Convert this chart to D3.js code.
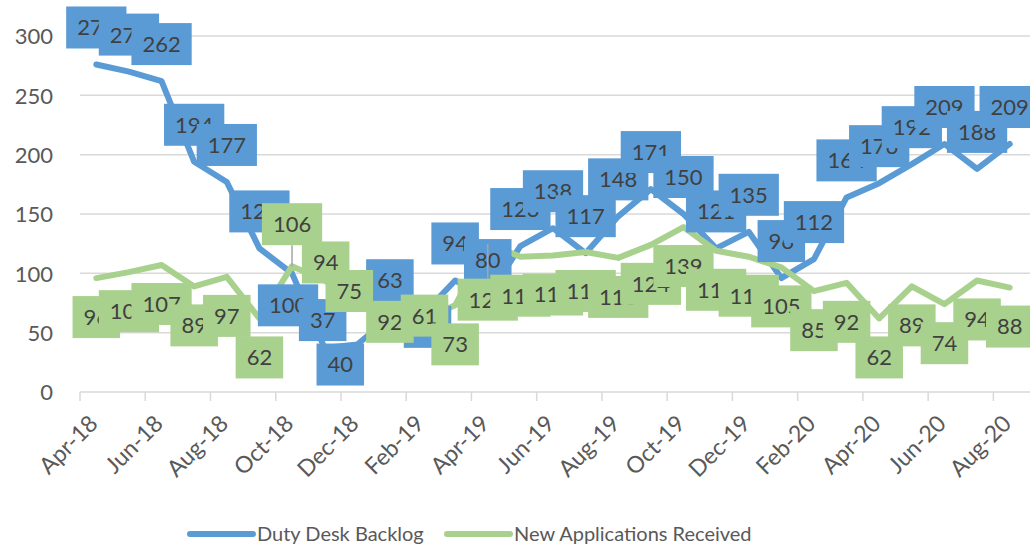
<!DOCTYPE html>
<html>
<head>
<meta charset="utf-8">
<script src="https://cdn.jsdelivr.net/npm/d3@7"></script>
<style>
  body { margin: 0; background: #fff; }
  text { font-family: Lato, "Open Sans", sans-serif; }
</style>
</head>
<body>
<div id="chart"></div>
<script>
const WIDTH = 1030;
const HEIGHT = 550;
const PLOT = { LEFT: 80, RIGHT: 1026, TOP: 36, BOTTOM: 392 };

const months = ["Apr-18", "May-18", "Jun-18", "Jul-18", "Aug-18", "Sep-18", "Oct-18", "Nov-18",
  "Dec-18", "Jan-19", "Feb-19", "Mar-19", "Apr-19", "May-19", "Jun-19", "Jul-19", "Aug-19",
  "Sep-19", "Oct-19", "Nov-19", "Dec-19", "Jan-20", "Feb-20", "Mar-20", "Apr-20", "May-20",
  "Jun-20", "Jul-20", "Aug-20"];
const tickMonths = ["Apr-18", "Jun-18", "Aug-18", "Oct-18", "Dec-18", "Feb-19", "Apr-19",
  "Jun-19", "Aug-19", "Oct-19", "Dec-19", "Feb-20", "Apr-20", "Jun-20", "Aug-20"];
const yTicks = [0, 50, 100, 150, 200, 250, 300];

const backlog = [276, 270, 262, 194, 177, 121, 100, 37, 40, 63, 65, 94, 80, 123, 138, 117,
  148, 171, 150, 121, 135, 96, 112, 164, 176, 192, 209, 188, 209];
const newApps = [96, 101, 107, 89, 97, 62, 106, 94, 75, 92, 61, 73, 125, 114, 115, 118,
  113, 124, 139, 119, 114, 105, 85, 92, 62, 89, 74, 94, 88];

const BLUE = "#5b9bd5";
const GREEN = "#a9d18e";

// labels that were dragged away from their default spot: [dx, dy, leader]
const blueNudge = { 6: [-4, 32], 7: [-2, -28], 8: [-17, 20], 10: [5, 12] };
const greenNudge = { 6: [0, -42, true], 7: [1, -18], 8: [-8, -12], 10: [2, -4], 12: [0, 56, true] };

const svg = d3.select("#chart").append("svg")
  .attr("width", WIDTH)
  .attr("height", HEIGHT);

const x = d3.scaleBand().domain(months).range([PLOT.LEFT, PLOT.RIGHT]);
const y = d3.scaleLinear().domain([0, 300]).range([PLOT.BOTTOM, PLOT.TOP]);
const cx = (m) => x(m) + x.bandwidth() / 2;

// gridlines
svg.append("g")
  .selectAll("line")
  .data(yTicks.filter((d) => d > 0))
  .join("line")
  .attr("x1", PLOT.LEFT)
  .attr("x2", WIDTH)
  .attr("y1", (d) => y(d))
  .attr("y2", (d) => y(d))
  .attr("stroke", "#d9d9d9")
  .attr("stroke-width", 1.5);

// y axis labels
const yAxis = svg.append("g")
  .attr("transform", `translate(${PLOT.LEFT - 27}, 0)`)
  .call(d3.axisLeft(y).tickValues(yTicks).tickSize(0).tickPadding(0));
yAxis.select(".domain").remove();
yAxis.selectAll("text")
  .attr("fill", "#595959")
  .style("font-size", "22px")
  .attr("dy", "0.36em");

// x axis
svg.append("line")
  .attr("x1", PLOT.LEFT).attr("x2", WIDTH)
  .attr("y1", PLOT.BOTTOM).attr("y2", PLOT.BOTTOM)
  .attr("stroke", "#d9d9d9").attr("stroke-width", 1.5);

svg.append("g")
  .selectAll("line")
  .data(tickMonths)
  .join("line")
  .attr("x1", (d) => x(d)).attr("x2", (d) => x(d))
  .attr("y1", PLOT.BOTTOM).attr("y2", PLOT.BOTTOM + 9)
  .attr("stroke", "#d9d9d9").attr("stroke-width", 1.5);

svg.append("g")
  .selectAll("text")
  .data(tickMonths)
  .join("text")
  .attr("transform", (d) => `translate(${cx(d) + 3}, 425) rotate(-45)`)
  .attr("text-anchor", "end")
  .attr("fill", "#595959")
  .style("font-size", "23px")
  .text((d) => d);

// lines
const lineGen = (vals) => d3.line()
  .x((d, i) => cx(months[i]))
  .y((d) => y(d))(vals);

svg.append("path")
  .attr("d", lineGen(backlog))
  .attr("fill", "none")
  .attr("stroke", BLUE)
  .attr("stroke-width", 6)
  .attr("stroke-linejoin", "round")
  .attr("stroke-linecap", "round");

svg.append("path")
  .attr("d", lineGen(newApps))
  .attr("fill", "none")
  .attr("stroke", GREEN)
  .attr("stroke-width", 6)
  .attr("stroke-linejoin", "round")
  .attr("stroke-linecap", "round");

// data labels
function drawLabels(vals, color, defaultDy, nudge) {
  const g = svg.append("g");
  vals.forEach((v, i) => {
    const n = nudge[i] || [0, defaultDy];
    const px = cx(months[i]);
    const py = y(v);
    const lab = g.append("g").attr("transform", `translate(${px + n[0]}, ${py + n[1]})`);
    const rect = lab.append("rect").attr("fill", color);
    const t = lab.append("text")
      .attr("text-anchor", "middle")
      .attr("dy", "0.36em")
      .attr("fill", "#404040")
      .style("font-size", "22px")
      .text(v);
    const w = t.node().getComputedTextLength() + 22;
    const h = 42;
    rect.attr("x", -w / 2).attr("y", -h / 2).attr("width", w).attr("height", h);
  });
  return g;
}

function drawLeaders(vals, nudge) {
  const g = svg.append("g");
  Object.keys(nudge).forEach((k) => {
    const n = nudge[k];
    if (!n[2]) return;
    const px = cx(months[k]);
    const py = y(vals[k]);
    const edge = py + n[1] + (n[1] < 0 ? 21 : -21);
    g.append("line")
      .attr("x1", px).attr("x2", px)
      .attr("y1", py).attr("y2", edge)
      .attr("stroke", "#a6a6a6")
      .attr("stroke-width", 1.5);
  });
}

drawLabels(backlog, BLUE, -37, blueNudge);
drawLeaders(newApps, greenNudge);
drawLabels(newApps, GREEN, 39, greenNudge);

// legend
const legendItems = [
  { name: "Duty Desk Backlog", color: BLUE, x: 190 },
  { name: "New Applications Received", color: GREEN, x: 447 }
];
const legend = svg.append("g");
legendItems.forEach((d) => {
  legend.append("line")
    .attr("x1", d.x).attr("x2", d.x + 63)
    .attr("y1", 534).attr("y2", 534)
    .attr("stroke", d.color)
    .attr("stroke-width", 6)
    .attr("stroke-linecap", "round");
  legend.append("text")
    .attr("x", d.x + 67)
    .attr("y", 534)
    .attr("dy", "0.36em")
    .attr("fill", "#595959")
    .style("font-size", "20px")
    .text(d.name);
});
</script>
</body>
</html>
